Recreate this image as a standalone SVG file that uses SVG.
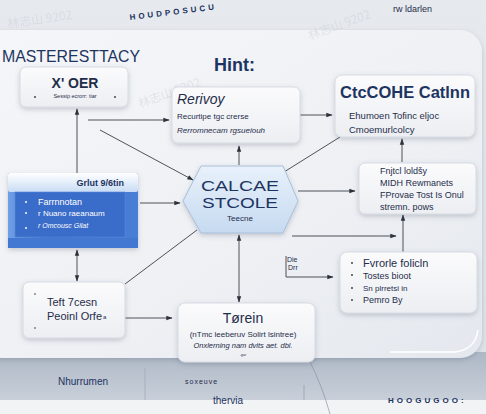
<svg xmlns="http://www.w3.org/2000/svg" width="486" height="414" viewBox="0 0 486 414">
<style>
.t{font-family:"Liberation Sans",Arial,sans-serif;fill:#1f2d4a}
.navy{fill:#1d3461}
.box{fill:url(#boxg);stroke:#d6dbe3;stroke-width:1}
.ln{stroke:#3a3f48;stroke-width:0.9;fill:none}
.wm{font-family:"Noto Sans CJK SC","Liberation Sans",sans-serif;fill:#c9ced6;opacity:0.45;font-size:12px}
</style>
<defs>
<linearGradient id="bg" x1="0" y1="0" x2="0" y2="1">
<stop offset="0" stop-color="#e6e9ee"/><stop offset="1" stop-color="#dde1e8"/>
</linearGradient>
<linearGradient id="panel" x1="0" y1="0" x2="1" y2="1">
<stop offset="0" stop-color="#f5f6f9"/><stop offset="0.6" stop-color="#eef0f4"/><stop offset="1" stop-color="#e4e8ee"/>
</linearGradient>
<linearGradient id="low" x1="0" y1="0" x2="0" y2="1">
<stop offset="0" stop-color="#aeb8c6"/><stop offset="1" stop-color="#c9d0da"/>
</linearGradient>
<linearGradient id="boxg" x1="0" y1="0" x2="0" y2="1">
<stop offset="0" stop-color="#fbfbfc"/><stop offset="1" stop-color="#eceef2"/>
</linearGradient>
<linearGradient id="hexg" x1="0" y1="0" x2="0" y2="1">
<stop offset="0" stop-color="#e8f1fb"/><stop offset="1" stop-color="#c6daf0"/>
</linearGradient>
<linearGradient id="blueg" x1="0" y1="0" x2="1" y2="0">
<stop offset="0" stop-color="#6f9fe6"/><stop offset="0.3" stop-color="#3d6fcb"/><stop offset="1" stop-color="#4a7fd6"/>
</linearGradient>
<linearGradient id="bluetop" x1="0" y1="0" x2="0" y2="1">
<stop offset="0" stop-color="#ffffff"/><stop offset="1" stop-color="#c9dcf5"/>
</linearGradient>
<filter id="sh" x="-20%" y="-20%" width="140%" height="150%">
<feDropShadow dx="0" dy="2" stdDeviation="2.5" flood-color="#5a6478" flood-opacity="0.3"/>
</filter>
<marker id="ar" viewBox="0 0 10 10" refX="9" refY="5" markerWidth="7" markerHeight="7" orient="auto-start-reverse">
<path d="M0,1.5 L10,5 L0,8.5 z" fill="#2c313a"/>
</marker>
</defs>

<!-- background -->
<rect width="486" height="414" fill="url(#bg)"/>
<rect x="0" y="352" width="486" height="50" fill="url(#low)"/>
<rect x="0" y="400" width="486" height="14" fill="#f2f3f5"/>
<rect x="-20" y="30" width="502" height="328" rx="22" fill="url(#panel)" filter="url(#sh)"/>
<path d="M390,352 L455,352 Q475,350 478,330" fill="none" stroke="#ffffff" stroke-width="1.5"/>
<path d="M309,360 Q322,385 330,414" fill="none" stroke="#8a93a2" stroke-width="0.7"/>
<line x1="304" y1="385" x2="304" y2="400" stroke="#8a93a2" stroke-width="0.6"/>
<line x1="145" y1="368" x2="145" y2="400" stroke="#9aa3b1" stroke-width="0.6"/>

<!-- watermarks -->
<text class="wm" transform="translate(8,28) rotate(-8)">林志山 9202</text>
<text class="wm" transform="translate(310,40) rotate(-20)">林志山 9202</text>
<text class="wm" transform="translate(140,108) rotate(-20)">林志山 9202</text>
<text class="wm" transform="translate(400,290) rotate(-20)">林志山 9202</text>

<!-- header texts -->
<text class="t navy" transform="translate(130,20) rotate(-7)" font-size="8" font-weight="bold" letter-spacing="3">HOUDPOSUCU</text>
<text class="t" x="393" y="12" font-size="9" fill="#3d4a63">rw ldarlen</text>
<text class="t navy" x="2" y="62" font-size="17" textLength="138" lengthAdjust="spacingAndGlyphs">MASTERESTTACY</text>
<text class="t navy" x="214" y="71" font-size="18" font-weight="bold">Hint:</text>

<!-- connectors -->
<g id="connectors">
<line class="ln" x1="77" y1="173" x2="77" y2="109" marker-end="url(#ar)"/>
<line class="ln" x1="88" y1="120" x2="169" y2="120" marker-end="url(#ar)"/>
<line class="ln" x1="100" y1="130" x2="193" y2="180" marker-end="url(#ar)"/>
<line class="ln" x1="140" y1="203" x2="180" y2="203" marker-end="url(#ar)"/>
<line class="ln" x1="239" y1="165" x2="239" y2="146" marker-end="url(#ar)"/>
<line class="ln" x1="300" y1="115" x2="332" y2="115" marker-end="url(#ar)"/>
<line class="ln" x1="284" y1="172" x2="340" y2="137"/>
<line class="ln" x1="402" y1="162" x2="402" y2="139" marker-end="url(#ar)"/>
<line class="ln" x1="298" y1="191" x2="355" y2="191" marker-end="url(#ar)"/>
<line class="ln" x1="292" y1="236" x2="396" y2="236" marker-end="url(#ar)"/>
<line class="ln" x1="403" y1="252" x2="403" y2="215" marker-end="url(#ar)"/>
<polyline class="ln" points="286,256 286,277 333,277" marker-end="url(#ar)"/>
<line class="ln" x1="239" y1="302" x2="239" y2="235" marker-start="url(#ar)" marker-end="url(#ar)"/>
<line class="ln" x1="77" y1="281" x2="77" y2="250" marker-start="url(#ar)" marker-end="url(#ar)"/>
<line class="ln" x1="125" y1="318" x2="172" y2="318" marker-end="url(#ar)"/>
<line class="ln" x1="125" y1="284" x2="197" y2="230"/>
<text class="t" x="287" y="262" font-size="7">Die</text>
<text class="t" x="288" y="270" font-size="7">Drr</text>
</g>

<!-- node: X' OER -->
<g id="n-xoer">
<rect class="box" x="20" y="67" width="108" height="40" rx="6" filter="url(#sh)"/>
<text class="t" x="75" y="88" font-size="14" font-weight="bold" text-anchor="middle">X' OER</text>
<text class="t" x="75" y="98" font-size="5.5" text-anchor="middle" fill="#555">Sessip ecrorr: tiar</text>
<circle cx="35" cy="97" r="0.9" fill="#333"/><circle cx="115" cy="97" r="0.9" fill="#333"/>
</g>

<!-- node: Rerivoy -->
<g id="n-rerivoy">
<rect class="box" x="172" y="87" width="128" height="56" rx="6" filter="url(#sh)"/>
<text class="t" x="177" y="104" font-size="14" font-style="italic">Rerivoy</text>
<text class="t" x="177" y="119" font-size="8">Recurtipe tgc crerse</text>
<text class="t" x="177" y="133" font-size="8" font-style="italic">Rerromnecam rgsueiouh</text>
</g>

<!-- node: CtcCOHE -->
<g id="n-ctccohe">
<rect class="box" x="335" y="75" width="140" height="62" rx="7" filter="url(#sh)"/>
<text class="t navy" x="340" y="98" font-size="17" font-weight="bold" textLength="130" lengthAdjust="spacingAndGlyphs">CtcCOHE Catlnn</text>
<text class="t" x="349" y="119" font-size="9.5">Ehumoen Tofinc eljoc</text>
<text class="t" x="349" y="133" font-size="9.5">Cmoemurlcolcy</text>
</g>

<!-- node: blue panel -->
<g id="n-blue">
<rect x="8" y="173" width="130" height="75" rx="2" fill="url(#blueg)" filter="url(#sh)"/>
<rect x="8" y="173" width="130" height="19" rx="2" fill="url(#bluetop)"/>
<rect x="15" y="192" width="110" height="45" fill="#3a6cc9" stroke="#5a8ad8" stroke-width="0.6"/>
<rect x="8" y="238" width="130" height="10" fill="#4277d2"/>
<text class="t navy" x="124" y="186" font-size="9" font-weight="bold" text-anchor="end">Grlut 9/6tin</text>
<g fill="#ffffff" font-family="Liberation Sans,Arial,sans-serif">
<circle cx="26" cy="202" r="1"/><circle cx="26" cy="213" r="1"/><circle cx="26" cy="228" r="1"/>
<text x="38" y="205" font-size="9">Farrnnotan</text>
<text x="38" y="216" font-size="8">r Nuano raeanaum</text>
<text x="38" y="228" font-size="7" font-style="italic">r Omcousc Gilat</text>
</g>
</g>

<!-- node: hexagon -->
<g id="n-hex">
<polygon points="201,166 283,166 298,201 283,233 201,233 183,201" fill="url(#hexg)" stroke="#a9c0da" stroke-width="1" filter="url(#sh)"/>
<text class="t navy" x="240" y="191" font-size="15" text-anchor="middle" textLength="78" lengthAdjust="spacingAndGlyphs">CALCAE</text>
<text class="t navy" x="240" y="208" font-size="15" text-anchor="middle" textLength="76" lengthAdjust="spacingAndGlyphs">STCOLE</text>
<text class="t" x="240" y="221" font-size="8" text-anchor="middle" fill="#4a5366">Teecne</text>
</g>

<!-- node: Fnjtcl -->
<g id="n-fnjtcl">
<rect class="box" x="359" y="163" width="117" height="51" rx="6" filter="url(#sh)"/>
<text class="t" x="380" y="174" font-size="9">Fnjtcl loldšy</text>
<text class="t" x="380" y="186" font-size="9">MIDH Rewmanets</text>
<text class="t" x="380" y="198" font-size="9">FProvae Tost Is Onul</text>
<text class="t" x="380" y="210" font-size="9">stremn. pows</text>
</g>

<!-- node: Fvrorle -->
<g id="n-fvrorle">
<rect class="box" x="340" y="252" width="137" height="61" rx="7" filter="url(#sh)"/>
<g fill="#333"><circle cx="352" cy="263" r="0.9"/><circle cx="352" cy="275" r="0.9"/><circle cx="352" cy="288" r="0.9"/><circle cx="352" cy="300" r="0.9"/></g>
<text class="t" x="363" y="267" font-size="11">Fvrorle folicln</text>
<text class="t" x="363" y="279" font-size="9">Tostes bioot</text>
<text class="t" x="363" y="291" font-size="8">Sn  plrretsi in</text>
<text class="t" x="363" y="303" font-size="9">Pemro By</text>
</g>

<!-- node: Teft 7cesn -->
<g id="n-teft">
<rect class="box" x="23" y="282" width="102" height="56" rx="6" filter="url(#sh)"/>
<circle cx="35" cy="294" r="0.8" fill="#333"/><circle cx="35" cy="328" r="0.8" fill="#333"/>
<text class="t" x="47" y="306" font-size="11">Teft 7cesn</text>
<text class="t" x="47" y="320" font-size="11">Peoinl Orfe</text>
<text class="t" x="103" y="319" font-size="6" fill="#777">a</text>
</g>

<!-- node: Torein -->
<g id="n-torein">
<rect class="box" x="178" y="303" width="137" height="59" rx="7" filter="url(#sh)"/>
<text class="t" x="243" y="323" font-size="14" text-anchor="middle">Tørein</text>
<text class="t" x="243" y="337" font-size="8" text-anchor="middle" fill="#444">(nTmc leeberuv Solirt lsintree)</text>
<text class="t" x="243" y="348" font-size="7.5" font-style="italic" text-anchor="middle">Onxlerning nam dvits  aet. dbl.</text>
<text class="t" x="243" y="356" font-size="3.5" text-anchor="middle" fill="#666">-gar</text>
</g>

<!-- footer texts -->
<text class="t navy" x="58" y="385" font-size="10">Nhurrumen</text>
<text class="t" x="185" y="384" font-size="7" fill="#9aa2ae" letter-spacing="1">soxeuve</text>
<text class="t navy" x="213" y="404" font-size="10">thervia</text>
<text class="t navy" x="388" y="403" font-size="8" font-weight="bold" letter-spacing="3">HOOGUGOO:</text>
</svg>
